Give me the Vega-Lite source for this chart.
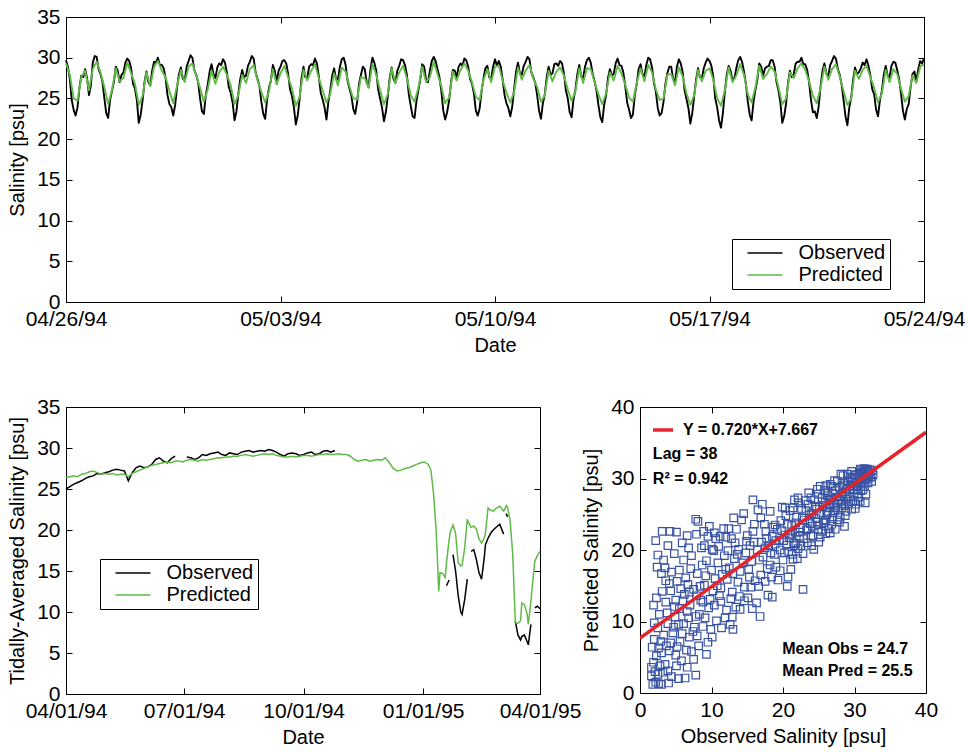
{
"$schema":"https://vega.github.io/schema/vega-lite/v6.json",
"background":"white",
"padding":{"left":7,"top":5,"right":5,"bottom":5},
"config":{
 "view":{"stroke":"black","strokeWidth":1},
 "font":"Liberation Sans",
 "axis":{"grid":false,"domainColor":"black","tickColor":"black","labelColor":"black","titleColor":"black","labelFont":"Liberation Sans","titleFont":"Liberation Sans","labelFontSize":21,"titleFontSize":20,"titleFontWeight":"normal","tickSize":-6,"labelPadding":12,"labelFlush":false,"labelOverlap":false,"labelBound":false},
 "axisY":{"titlePadding":9},
 "axisX":{"titlePadding":6},
 "legend":{"labelFont":"Liberation Sans","labelFontSize":20,"labelColor":"black","strokeColor":"black","fillColor":"white","padding":4,"symbolOffset":19,"symbolType":"M-2.5,0H2.5","symbolSize":196,"symbolStrokeWidth":1.5,"rowPadding":2,"labelOffset":23.5,"title":null,"labelExpr":"datum.label + '\u00a0\u00a0\u00a0\u00a0'"}
},
"datasets":{
"tide":[
{"t":"1994-04-26T00:00","Observed":29.7,"Predicted":29.3},{"t":"1994-04-26T03:00","Observed":27.4,"Predicted":27.9},{"t":"1994-04-26T06:00","Observed":23.6,"Predicted":25.0},{"t":"1994-04-26T09:00","Observed":23.9,"Predicted":24.7},{"t":"1994-04-26T12:00","Observed":27.8,"Predicted":27.6},{"t":"1994-04-26T15:00","Observed":28.6,"Predicted":28.4},{"t":"1994-04-26T18:00","Observed":25.4,"Predicted":26.0},{"t":"1994-04-26T21:00","Observed":29.4,"Predicted":28.6},
{"t":"1994-04-27T00:00","Observed":30.1,"Predicted":29.5},{"t":"1994-04-27T03:00","Observed":28.0,"Predicted":28.2},{"t":"1994-04-27T06:00","Observed":25.1,"Predicted":26.4},{"t":"1994-04-27T09:00","Observed":22.6,"Predicted":24.3},{"t":"1994-04-27T12:00","Observed":25.9,"Predicted":26.0},{"t":"1994-04-27T15:00","Observed":28.9,"Predicted":28.7},{"t":"1994-04-27T18:00","Observed":27.0,"Predicted":27.1},{"t":"1994-04-27T21:00","Observed":28.2,"Predicted":27.5},
{"t":"1994-04-28T00:00","Observed":29.9,"Predicted":29.4},{"t":"1994-04-28T03:00","Observed":28.7,"Predicted":28.1},{"t":"1994-04-28T06:00","Observed":26.2,"Predicted":26.8},{"t":"1994-04-28T09:00","Observed":22.0,"Predicted":24.2},{"t":"1994-04-28T12:00","Observed":24.8,"Predicted":25.3},{"t":"1994-04-28T15:00","Observed":28.3,"Predicted":28.2},{"t":"1994-04-28T18:00","Observed":26.6,"Predicted":26.5},{"t":"1994-04-28T21:00","Observed":29.5,"Predicted":28.9},
{"t":"1994-04-29T00:00","Observed":30.0,"Predicted":29.6},{"t":"1994-04-29T03:00","Observed":29.1,"Predicted":28.4},{"t":"1994-04-29T06:00","Observed":27.5,"Predicted":27.6},{"t":"1994-04-29T09:00","Observed":24.3,"Predicted":25.9},{"t":"1994-04-29T12:00","Observed":22.9,"Predicted":24.4},{"t":"1994-04-29T15:00","Observed":26.4,"Predicted":26.6},{"t":"1994-04-29T18:00","Observed":28.8,"Predicted":28.5},{"t":"1994-04-29T21:00","Observed":27.2,"Predicted":27.0},
{"t":"1994-04-30T00:00","Observed":29.6,"Predicted":28.9},{"t":"1994-04-30T03:00","Observed":30.0,"Predicted":29.3},{"t":"1994-04-30T06:00","Observed":27.9,"Predicted":27.8},{"t":"1994-04-30T09:00","Observed":25.0,"Predicted":26.3},{"t":"1994-04-30T12:00","Observed":23.1,"Predicted":24.6},{"t":"1994-04-30T15:00","Observed":26.7,"Predicted":26.1},{"t":"1994-04-30T18:00","Observed":29.2,"Predicted":28.4},{"t":"1994-04-30T21:00","Observed":27.5,"Predicted":26.8},
{"t":"1994-05-01T00:00","Observed":29.3,"Predicted":28.2},{"t":"1994-05-01T03:00","Observed":29.8,"Predicted":28.9},{"t":"1994-05-01T06:00","Observed":28.2,"Predicted":27.9},{"t":"1994-05-01T09:00","Observed":25.7,"Predicted":26.6},{"t":"1994-05-01T12:00","Observed":22.3,"Predicted":24.3},{"t":"1994-05-01T15:00","Observed":25.6,"Predicted":25.4},{"t":"1994-05-01T18:00","Observed":28.5,"Predicted":27.9},{"t":"1994-05-01T21:00","Observed":27.8,"Predicted":26.9},
{"t":"1994-05-02T00:00","Observed":29.5,"Predicted":28.6},{"t":"1994-05-02T03:00","Observed":29.9,"Predicted":29.1},{"t":"1994-05-02T06:00","Observed":27.4,"Predicted":27.2},{"t":"1994-05-02T09:00","Observed":24.6,"Predicted":25.8},{"t":"1994-05-02T12:00","Observed":22.5,"Predicted":24.5},{"t":"1994-05-02T15:00","Observed":26.3,"Predicted":25.9},{"t":"1994-05-02T18:00","Observed":29.1,"Predicted":28.6},{"t":"1994-05-02T21:00","Observed":26.9,"Predicted":26.7},
{"t":"1994-05-03T00:00","Observed":28.9,"Predicted":28.1},{"t":"1994-05-03T03:00","Observed":29.7,"Predicted":29.0},{"t":"1994-05-03T06:00","Observed":28.0,"Predicted":27.6},{"t":"1994-05-03T09:00","Observed":25.3,"Predicted":26.2},{"t":"1994-05-03T12:00","Observed":21.8,"Predicted":24.1},{"t":"1994-05-03T15:00","Observed":25.0,"Predicted":25.2},{"t":"1994-05-03T18:00","Observed":28.9,"Predicted":28.5},{"t":"1994-05-03T21:00","Observed":27.6,"Predicted":27.2},
{"t":"1994-05-04T00:00","Observed":29.2,"Predicted":28.4},{"t":"1994-05-04T03:00","Observed":29.9,"Predicted":29.2},{"t":"1994-05-04T06:00","Observed":27.7,"Predicted":27.5},{"t":"1994-05-04T09:00","Observed":24.9,"Predicted":26.0},{"t":"1994-05-04T12:00","Observed":22.4,"Predicted":24.5},{"t":"1994-05-04T15:00","Observed":26.0,"Predicted":25.6},{"t":"1994-05-04T18:00","Observed":28.7,"Predicted":28.1},{"t":"1994-05-04T21:00","Observed":27.3,"Predicted":26.6},
{"t":"1994-05-05T00:00","Observed":29.8,"Predicted":28.8},{"t":"1994-05-05T03:00","Observed":29.1,"Predicted":28.3},{"t":"1994-05-05T06:00","Observed":26.2,"Predicted":26.5},{"t":"1994-05-05T09:00","Observed":23.7,"Predicted":25.0},{"t":"1994-05-05T12:00","Observed":24.5,"Predicted":24.9},{"t":"1994-05-05T15:00","Observed":27.9,"Predicted":27.6},{"t":"1994-05-05T18:00","Observed":28.6,"Predicted":27.5},{"t":"1994-05-05T21:00","Observed":26.4,"Predicted":26.3},
{"t":"1994-05-06T00:00","Observed":30.0,"Predicted":29.2},{"t":"1994-05-06T03:00","Observed":28.4,"Predicted":27.9},{"t":"1994-05-06T06:00","Observed":25.0,"Predicted":26.0},{"t":"1994-05-06T09:00","Observed":22.2,"Predicted":24.3},{"t":"1994-05-06T12:00","Observed":25.2,"Predicted":25.5},{"t":"1994-05-06T15:00","Observed":28.8,"Predicted":28.7},{"t":"1994-05-06T18:00","Observed":26.9,"Predicted":26.9},{"t":"1994-05-06T21:00","Observed":29.0,"Predicted":28.2},
{"t":"1994-05-07T00:00","Observed":29.7,"Predicted":29.0},{"t":"1994-05-07T03:00","Observed":27.9,"Predicted":27.5},{"t":"1994-05-07T06:00","Observed":24.1,"Predicted":25.4},{"t":"1994-05-07T09:00","Observed":22.6,"Predicted":24.6},{"t":"1994-05-07T12:00","Observed":26.0,"Predicted":26.3},{"t":"1994-05-07T15:00","Observed":29.2,"Predicted":28.9},{"t":"1994-05-07T18:00","Observed":27.3,"Predicted":27.0},{"t":"1994-05-07T21:00","Observed":28.4,"Predicted":27.6},
{"t":"1994-05-08T00:00","Observed":30.1,"Predicted":29.5},{"t":"1994-05-08T03:00","Observed":28.6,"Predicted":28.0},{"t":"1994-05-08T06:00","Observed":25.9,"Predicted":26.5},{"t":"1994-05-08T09:00","Observed":22.4,"Predicted":24.4},{"t":"1994-05-08T12:00","Observed":24.7,"Predicted":25.1},{"t":"1994-05-08T15:00","Observed":28.5,"Predicted":28.3},{"t":"1994-05-08T18:00","Observed":27.6,"Predicted":27.2},{"t":"1994-05-08T21:00","Observed":29.3,"Predicted":28.5},
{"t":"1994-05-09T00:00","Observed":29.9,"Predicted":29.3},{"t":"1994-05-09T03:00","Observed":28.9,"Predicted":28.4},{"t":"1994-05-09T06:00","Observed":26.8,"Predicted":27.0},{"t":"1994-05-09T09:00","Observed":23.5,"Predicted":25.2},{"t":"1994-05-09T12:00","Observed":23.8,"Predicted":24.8},{"t":"1994-05-09T15:00","Observed":27.5,"Predicted":27.3},{"t":"1994-05-09T18:00","Observed":29.0,"Predicted":28.6},{"t":"1994-05-09T21:00","Observed":27.4,"Predicted":27.0},
{"t":"1994-05-10T00:00","Observed":29.8,"Predicted":28.9},{"t":"1994-05-10T03:00","Observed":29.6,"Predicted":29.0},{"t":"1994-05-10T06:00","Observed":27.3,"Predicted":27.2},{"t":"1994-05-10T09:00","Observed":24.4,"Predicted":25.7},{"t":"1994-05-10T12:00","Observed":22.8,"Predicted":24.5},{"t":"1994-05-10T15:00","Observed":26.2,"Predicted":25.8},{"t":"1994-05-10T18:00","Observed":29.4,"Predicted":28.8},{"t":"1994-05-10T21:00","Observed":27.9,"Predicted":27.3},
{"t":"1994-05-11T00:00","Observed":29.5,"Predicted":28.4},{"t":"1994-05-11T03:00","Observed":29.8,"Predicted":29.1},{"t":"1994-05-11T06:00","Observed":27.6,"Predicted":27.4},{"t":"1994-05-11T09:00","Observed":25.4,"Predicted":26.4},{"t":"1994-05-11T12:00","Observed":22.5,"Predicted":24.6},{"t":"1994-05-11T15:00","Observed":25.5,"Predicted":25.4},{"t":"1994-05-11T18:00","Observed":28.9,"Predicted":28.4},{"t":"1994-05-11T21:00","Observed":28.1,"Predicted":27.1},
{"t":"1994-05-12T00:00","Observed":29.3,"Predicted":28.3},{"t":"1994-05-12T03:00","Observed":29.6,"Predicted":28.8},{"t":"1994-05-12T06:00","Observed":28.1,"Predicted":27.8},{"t":"1994-05-12T09:00","Observed":25.0,"Predicted":26.1},{"t":"1994-05-12T12:00","Observed":22.7,"Predicted":24.7},{"t":"1994-05-12T15:00","Observed":26.1,"Predicted":25.9},{"t":"1994-05-12T18:00","Observed":29.1,"Predicted":28.7},{"t":"1994-05-12T21:00","Observed":27.5,"Predicted":26.9},
{"t":"1994-05-13T00:00","Observed":29.7,"Predicted":28.7},{"t":"1994-05-13T03:00","Observed":29.4,"Predicted":28.6},{"t":"1994-05-13T06:00","Observed":27.1,"Predicted":27.0},{"t":"1994-05-13T09:00","Observed":24.2,"Predicted":25.5},{"t":"1994-05-13T12:00","Observed":22.1,"Predicted":24.3},{"t":"1994-05-13T15:00","Observed":25.4,"Predicted":25.6},{"t":"1994-05-13T18:00","Observed":28.6,"Predicted":28.2},{"t":"1994-05-13T21:00","Observed":28.0,"Predicted":27.2},
{"t":"1994-05-14T00:00","Observed":29.9,"Predicted":29.0},{"t":"1994-05-14T03:00","Observed":29.0,"Predicted":28.1},{"t":"1994-05-14T06:00","Observed":26.5,"Predicted":26.7},{"t":"1994-05-14T09:00","Observed":23.6,"Predicted":25.1},{"t":"1994-05-14T12:00","Observed":23.0,"Predicted":24.6},{"t":"1994-05-14T15:00","Observed":26.8,"Predicted":26.9},{"t":"1994-05-14T18:00","Observed":29.2,"Predicted":28.7},{"t":"1994-05-14T21:00","Observed":27.7,"Predicted":27.1},
{"t":"1994-05-15T00:00","Observed":30.0,"Predicted":29.1},{"t":"1994-05-15T03:00","Observed":28.8,"Predicted":28.2},{"t":"1994-05-15T06:00","Observed":25.8,"Predicted":26.1},{"t":"1994-05-15T09:00","Observed":22.9,"Predicted":24.8},{"t":"1994-05-15T12:00","Observed":24.6,"Predicted":25.0},{"t":"1994-05-15T15:00","Observed":28.1,"Predicted":27.9},{"t":"1994-05-15T18:00","Observed":28.9,"Predicted":28.0},{"t":"1994-05-15T21:00","Observed":27.0,"Predicted":26.6},
{"t":"1994-05-16T00:00","Observed":29.8,"Predicted":28.8},{"t":"1994-05-16T03:00","Observed":28.2,"Predicted":27.7},{"t":"1994-05-16T06:00","Observed":24.9,"Predicted":25.6},{"t":"1994-05-16T09:00","Observed":21.9,"Predicted":24.2},{"t":"1994-05-16T12:00","Observed":25.3,"Predicted":25.4},{"t":"1994-05-16T15:00","Observed":28.7,"Predicted":28.5},{"t":"1994-05-16T18:00","Observed":27.4,"Predicted":27.1},{"t":"1994-05-16T21:00","Observed":29.4,"Predicted":28.4},
{"t":"1994-05-17T00:00","Observed":29.6,"Predicted":28.7},{"t":"1994-05-17T03:00","Observed":27.6,"Predicted":27.3},{"t":"1994-05-17T06:00","Observed":23.9,"Predicted":25.0},{"t":"1994-05-17T09:00","Observed":21.4,"Predicted":24.1},{"t":"1994-05-17T12:00","Observed":25.8,"Predicted":26.0},{"t":"1994-05-17T15:00","Observed":29.0,"Predicted":28.8},{"t":"1994-05-17T18:00","Observed":27.2,"Predicted":27.0},{"t":"1994-05-17T21:00","Observed":28.7,"Predicted":27.8},
{"t":"1994-05-18T00:00","Observed":30.1,"Predicted":29.2},{"t":"1994-05-18T03:00","Observed":28.3,"Predicted":27.9},{"t":"1994-05-18T06:00","Observed":24.6,"Predicted":25.5},{"t":"1994-05-18T09:00","Observed":22.3,"Predicted":24.5},{"t":"1994-05-18T12:00","Observed":26.1,"Predicted":26.4},{"t":"1994-05-18T15:00","Observed":29.3,"Predicted":29.0},{"t":"1994-05-18T18:00","Observed":27.8,"Predicted":27.4},{"t":"1994-05-18T21:00","Observed":28.9,"Predicted":28.0},
{"t":"1994-05-19T00:00","Observed":29.7,"Predicted":28.9},{"t":"1994-05-19T03:00","Observed":28.9,"Predicted":28.3},{"t":"1994-05-19T06:00","Observed":26.0,"Predicted":26.4},{"t":"1994-05-19T09:00","Observed":22.0,"Predicted":24.3},{"t":"1994-05-19T12:00","Observed":24.4,"Predicted":25.0},{"t":"1994-05-19T15:00","Observed":28.4,"Predicted":28.2},{"t":"1994-05-19T18:00","Observed":28.0,"Predicted":27.5},{"t":"1994-05-19T21:00","Observed":29.5,"Predicted":28.7},
{"t":"1994-05-20T00:00","Observed":30.0,"Predicted":29.3},{"t":"1994-05-20T03:00","Observed":29.2,"Predicted":28.5},{"t":"1994-05-20T06:00","Observed":27.0,"Predicted":27.1},{"t":"1994-05-20T09:00","Observed":23.3,"Predicted":25.3},{"t":"1994-05-20T12:00","Observed":22.6,"Predicted":24.4},{"t":"1994-05-20T15:00","Observed":26.5,"Predicted":26.3},{"t":"1994-05-20T18:00","Observed":29.3,"Predicted":28.9},{"t":"1994-05-20T21:00","Observed":27.7,"Predicted":27.3},
{"t":"1994-05-21T00:00","Observed":29.6,"Predicted":28.6},{"t":"1994-05-21T03:00","Observed":29.9,"Predicted":29.2},{"t":"1994-05-21T06:00","Observed":27.9,"Predicted":27.7},{"t":"1994-05-21T09:00","Observed":24.8,"Predicted":25.9},{"t":"1994-05-21T12:00","Observed":21.7,"Predicted":24.2},{"t":"1994-05-21T15:00","Observed":25.1,"Predicted":25.0},{"t":"1994-05-21T18:00","Observed":28.8,"Predicted":28.4},{"t":"1994-05-21T21:00","Observed":28.2,"Predicted":27.4},
{"t":"1994-05-22T00:00","Observed":29.4,"Predicted":28.5},{"t":"1994-05-22T03:00","Observed":29.8,"Predicted":29.0},{"t":"1994-05-22T06:00","Observed":27.8,"Predicted":27.6},{"t":"1994-05-22T09:00","Observed":25.5,"Predicted":26.3},{"t":"1994-05-22T12:00","Observed":22.8,"Predicted":24.5},{"t":"1994-05-22T15:00","Observed":25.9,"Predicted":25.6},{"t":"1994-05-22T18:00","Observed":29.0,"Predicted":28.5},{"t":"1994-05-22T21:00","Observed":27.6,"Predicted":27.0},
{"t":"1994-05-23T00:00","Observed":29.5,"Predicted":28.6},{"t":"1994-05-23T03:00","Observed":28.5,"Predicted":28.0},{"t":"1994-05-23T06:00","Observed":25.6,"Predicted":26.2},{"t":"1994-05-23T09:00","Observed":22.4,"Predicted":24.6},{"t":"1994-05-23T12:00","Observed":24.3,"Predicted":25.3},{"t":"1994-05-23T15:00","Observed":28.0,"Predicted":27.8},{"t":"1994-05-23T18:00","Observed":27.1,"Predicted":26.9},{"t":"1994-05-23T21:00","Observed":29.6,"Predicted":28.9},
{"t":"1994-05-24T00:00","Observed":29.9,"Predicted":29.2},
{"t":"1994-04-26T01:30","Observed":28.9},{"t":"1994-04-26T04:30","Observed":24.8},{"t":"1994-04-26T07:30","Observed":22.9},{"t":"1994-04-26T10:30","Observed":26.3},{"t":"1994-04-26T13:30","Observed":27.6},{"t":"1994-04-26T16:30","Observed":27.5},{"t":"1994-04-26T19:30","Observed":26.6},{"t":"1994-04-26T22:30","Observed":30.2},
{"t":"1994-04-27T01:30","Observed":28.6},{"t":"1994-04-27T04:30","Observed":27.1},{"t":"1994-04-27T07:30","Observed":23.2},{"t":"1994-04-27T10:30","Observed":24.8},{"t":"1994-04-27T13:30","Observed":27.0},{"t":"1994-04-27T16:30","Observed":28.4},{"t":"1994-04-27T19:30","Observed":27.9},{"t":"1994-04-27T22:30","Observed":29.4},
{"t":"1994-04-28T01:30","Observed":29.6},{"t":"1994-04-28T04:30","Observed":26.8},{"t":"1994-04-28T07:30","Observed":24.8},{"t":"1994-04-28T10:30","Observed":23.0},{"t":"1994-04-28T13:30","Observed":27.0},{"t":"1994-04-28T16:30","Observed":27.0},{"t":"1994-04-28T19:30","Observed":28.4},{"t":"1994-04-28T22:30","Observed":29.4},
{"t":"1994-04-29T01:30","Observed":29.1},{"t":"1994-04-29T04:30","Observed":28.7},{"t":"1994-04-29T07:30","Observed":25.4},{"t":"1994-04-29T10:30","Observed":23.9},{"t":"1994-04-29T13:30","Observed":24.2},{"t":"1994-04-29T16:30","Observed":28.0},{"t":"1994-04-29T19:30","Observed":27.4},{"t":"1994-04-29T22:30","Observed":28.9},
{"t":"1994-04-30T01:30","Observed":30.3},{"t":"1994-04-30T04:30","Observed":28.5},{"t":"1994-04-30T07:30","Observed":27.0},{"t":"1994-04-30T10:30","Observed":23.4},{"t":"1994-04-30T13:30","Observed":25.4},{"t":"1994-04-30T16:30","Observed":28.3},{"t":"1994-04-30T19:30","Observed":28.0},{"t":"1994-04-30T22:30","Observed":28.8},
{"t":"1994-05-01T01:30","Observed":29.1},{"t":"1994-05-01T04:30","Observed":29.4},{"t":"1994-05-01T07:30","Observed":26.4},{"t":"1994-05-01T10:30","Observed":24.5},{"t":"1994-05-01T13:30","Observed":23.4},{"t":"1994-05-01T16:30","Observed":27.4},{"t":"1994-05-01T19:30","Observed":27.6},{"t":"1994-05-01T22:30","Observed":29.0},
{"t":"1994-05-02T01:30","Observed":30.2},{"t":"1994-05-02T04:30","Observed":28.2},{"t":"1994-05-02T07:30","Observed":26.5},{"t":"1994-05-02T10:30","Observed":23.1},{"t":"1994-05-02T13:30","Observed":24.9},{"t":"1994-05-02T16:30","Observed":27.2},{"t":"1994-05-02T19:30","Observed":28.4},{"t":"1994-05-02T22:30","Observed":28.4},
{"t":"1994-05-03T01:30","Observed":29.6},{"t":"1994-05-03T04:30","Observed":29.3},{"t":"1994-05-03T07:30","Observed":26.1},{"t":"1994-05-03T10:30","Observed":23.9},{"t":"1994-05-03T13:30","Observed":22.9},{"t":"1994-05-03T16:30","Observed":27.5},{"t":"1994-05-03T19:30","Observed":27.6},{"t":"1994-05-03T22:30","Observed":28.9},
{"t":"1994-05-04T01:30","Observed":29.1},{"t":"1994-05-04T04:30","Observed":29.3},{"t":"1994-05-04T07:30","Observed":25.7},{"t":"1994-05-04T10:30","Observed":23.9},{"t":"1994-05-04T13:30","Observed":24.6},{"t":"1994-05-04T16:30","Observed":27.8},{"t":"1994-05-04T19:30","Observed":27.4},{"t":"1994-05-04T22:30","Observed":28.9},
{"t":"1994-05-05T01:30","Observed":30.0},{"t":"1994-05-05T04:30","Observed":27.2},{"t":"1994-05-05T07:30","Observed":25.4},{"t":"1994-05-05T10:30","Observed":23.1},{"t":"1994-05-05T13:30","Observed":26.8},{"t":"1994-05-05T16:30","Observed":28.9},{"t":"1994-05-05T19:30","Observed":27.0},{"t":"1994-05-05T22:30","Observed":28.6},
{"t":"1994-05-06T01:30","Observed":29.4},{"t":"1994-05-06T04:30","Observed":26.1},{"t":"1994-05-06T07:30","Observed":23.9},{"t":"1994-05-06T10:30","Observed":23.3},{"t":"1994-05-06T13:30","Observed":27.5},{"t":"1994-05-06T16:30","Observed":27.4},{"t":"1994-05-06T19:30","Observed":28.4},{"t":"1994-05-06T22:30","Observed":29.8},
{"t":"1994-05-07T01:30","Observed":29.1},{"t":"1994-05-07T04:30","Observed":25.5},{"t":"1994-05-07T07:30","Observed":22.8},{"t":"1994-05-07T10:30","Observed":24.7},{"t":"1994-05-07T13:30","Observed":27.4},{"t":"1994-05-07T16:30","Observed":28.9},{"t":"1994-05-07T19:30","Observed":27.0},{"t":"1994-05-07T22:30","Observed":29.6},
{"t":"1994-05-08T01:30","Observed":29.6},{"t":"1994-05-08T04:30","Observed":27.6},{"t":"1994-05-08T07:30","Observed":23.5},{"t":"1994-05-08T10:30","Observed":23.3},{"t":"1994-05-08T13:30","Observed":26.9},{"t":"1994-05-08T16:30","Observed":28.4},{"t":"1994-05-08T19:30","Observed":28.9},{"t":"1994-05-08T22:30","Observed":29.0},
{"t":"1994-05-09T01:30","Observed":29.7},{"t":"1994-05-09T04:30","Observed":27.4},{"t":"1994-05-09T07:30","Observed":25.6},{"t":"1994-05-09T10:30","Observed":22.9},{"t":"1994-05-09T13:30","Observed":25.9},{"t":"1994-05-09T16:30","Observed":28.7},{"t":"1994-05-09T19:30","Observed":27.6},{"t":"1994-05-09T22:30","Observed":28.9},
{"t":"1994-05-10T01:30","Observed":29.0},{"t":"1994-05-10T04:30","Observed":28.9},{"t":"1994-05-10T07:30","Observed":25.4},{"t":"1994-05-10T10:30","Observed":23.8},{"t":"1994-05-10T13:30","Observed":24.0},{"t":"1994-05-10T16:30","Observed":28.3},{"t":"1994-05-10T19:30","Observed":28.1},{"t":"1994-05-10T22:30","Observed":29.0},
{"t":"1994-05-11T01:30","Observed":30.1},{"t":"1994-05-11T04:30","Observed":28.2},{"t":"1994-05-11T07:30","Observed":26.9},{"t":"1994-05-11T10:30","Observed":23.5},{"t":"1994-05-11T13:30","Observed":24.4},{"t":"1994-05-11T16:30","Observed":27.6},{"t":"1994-05-11T19:30","Observed":27.9},{"t":"1994-05-11T22:30","Observed":29.2},
{"t":"1994-05-12T01:30","Observed":29.0},{"t":"1994-05-12T04:30","Observed":29.3},{"t":"1994-05-12T07:30","Observed":26.0},{"t":"1994-05-12T10:30","Observed":23.3},{"t":"1994-05-12T13:30","Observed":24.9},{"t":"1994-05-12T16:30","Observed":28.0},{"t":"1994-05-12T19:30","Observed":27.7},{"t":"1994-05-12T22:30","Observed":28.9},
{"t":"1994-05-13T01:30","Observed":30.0},{"t":"1994-05-13T04:30","Observed":28.0},{"t":"1994-05-13T07:30","Observed":26.0},{"t":"1994-05-13T10:30","Observed":22.7},{"t":"1994-05-13T13:30","Observed":24.2},{"t":"1994-05-13T16:30","Observed":27.5},{"t":"1994-05-13T19:30","Observed":27.8},{"t":"1994-05-13T22:30","Observed":29.3},
{"t":"1994-05-14T01:30","Observed":29.1},{"t":"1994-05-14T04:30","Observed":28.2},{"t":"1994-05-14T07:30","Observed":24.5},{"t":"1994-05-14T10:30","Observed":22.6},{"t":"1994-05-14T13:30","Observed":25.4},{"t":"1994-05-14T16:30","Observed":28.6},{"t":"1994-05-14T19:30","Observed":28.0},{"t":"1994-05-14T22:30","Observed":29.1},
{"t":"1994-05-15T01:30","Observed":29.8},{"t":"1994-05-15T04:30","Observed":26.9},{"t":"1994-05-15T07:30","Observed":23.8},{"t":"1994-05-15T10:30","Observed":23.2},{"t":"1994-05-15T13:30","Observed":26.8},{"t":"1994-05-15T16:30","Observed":28.9},{"t":"1994-05-15T19:30","Observed":27.4},{"t":"1994-05-15T22:30","Observed":28.9},
{"t":"1994-05-16T01:30","Observed":29.3},{"t":"1994-05-16T04:30","Observed":26.0},{"t":"1994-05-16T07:30","Observed":23.8},{"t":"1994-05-16T10:30","Observed":23.2},{"t":"1994-05-16T13:30","Observed":27.3},{"t":"1994-05-16T16:30","Observed":27.6},{"t":"1994-05-16T19:30","Observed":28.7},{"t":"1994-05-16T22:30","Observed":29.9},
{"t":"1994-05-17T01:30","Observed":29.0},{"t":"1994-05-17T04:30","Observed":25.0},{"t":"1994-05-17T07:30","Observed":22.3},{"t":"1994-05-17T10:30","Observed":23.2},{"t":"1994-05-17T13:30","Observed":27.9},{"t":"1994-05-17T16:30","Observed":28.4},{"t":"1994-05-17T19:30","Observed":27.5},{"t":"1994-05-17T22:30","Observed":29.7},
{"t":"1994-05-18T01:30","Observed":29.5},{"t":"1994-05-18T04:30","Observed":26.8},{"t":"1994-05-18T07:30","Observed":23.0},{"t":"1994-05-18T10:30","Observed":24.6},{"t":"1994-05-18T13:30","Observed":27.3},{"t":"1994-05-18T16:30","Observed":28.9},{"t":"1994-05-18T19:30","Observed":28.7},{"t":"1994-05-18T22:30","Observed":29.0},
{"t":"1994-05-19T01:30","Observed":29.7},{"t":"1994-05-19T04:30","Observed":27.0},{"t":"1994-05-19T07:30","Observed":24.5},{"t":"1994-05-19T10:30","Observed":22.8},{"t":"1994-05-19T13:30","Observed":26.9},{"t":"1994-05-19T16:30","Observed":27.6},{"t":"1994-05-19T19:30","Observed":29.3},{"t":"1994-05-19T22:30","Observed":29.5},
{"t":"1994-05-20T01:30","Observed":29.2},{"t":"1994-05-20T04:30","Observed":28.5},{"t":"1994-05-20T07:30","Observed":24.8},{"t":"1994-05-20T10:30","Observed":23.4},{"t":"1994-05-20T13:30","Observed":24.0},{"t":"1994-05-20T16:30","Observed":28.4},{"t":"1994-05-20T19:30","Observed":28.1},{"t":"1994-05-20T22:30","Observed":29.1},
{"t":"1994-05-21T01:30","Observed":30.2},{"t":"1994-05-21T04:30","Observed":28.6},{"t":"1994-05-21T07:30","Observed":26.7},{"t":"1994-05-21T10:30","Observed":22.8},{"t":"1994-05-21T13:30","Observed":23.9},{"t":"1994-05-21T16:30","Observed":27.3},{"t":"1994-05-21T19:30","Observed":28.0},{"t":"1994-05-21T22:30","Observed":28.7},
{"t":"1994-05-22T01:30","Observed":29.1},{"t":"1994-05-22T04:30","Observed":29.0},{"t":"1994-05-22T07:30","Observed":26.1},{"t":"1994-05-22T10:30","Observed":23.6},{"t":"1994-05-22T13:30","Observed":24.8},{"t":"1994-05-22T16:30","Observed":27.9},{"t":"1994-05-22T19:30","Observed":27.8},{"t":"1994-05-22T22:30","Observed":29.0},
{"t":"1994-05-23T01:30","Observed":29.4},{"t":"1994-05-23T04:30","Observed":27.4},{"t":"1994-05-23T07:30","Observed":23.5},{"t":"1994-05-23T10:30","Observed":23.7},{"t":"1994-05-23T13:30","Observed":26.4},{"t":"1994-05-23T16:30","Observed":28.3},{"t":"1994-05-23T19:30","Observed":28.6},{"t":"1994-05-23T22:30","Observed":29.3}
],
"avg":[
{"t":"1994-04-01T00:00","Observed":25.0,"Predicted":26.4},{"t":"1994-04-04T00:00","Observed":25.3,"Predicted":26.5},{"t":"1994-04-07T00:00","Observed":25.6,"Predicted":26.6},{"t":"1994-04-10T00:00","Observed":25.8,"Predicted":26.5},{"t":"1994-04-13T00:00","Observed":26.0,"Predicted":26.8},{"t":"1994-04-16T00:00","Observed":26.3,"Predicted":26.9},{"t":"1994-04-19T00:00","Observed":26.5,"Predicted":27.1},{"t":"1994-04-22T00:00","Observed":26.6,"Predicted":27.2},{"t":"1994-04-25T00:00","Observed":26.9,"Predicted":27.0},{"t":"1994-04-28T00:00","Observed":26.8,"Predicted":26.8},
{"t":"1994-05-01T00:00","Observed":27.0,"Predicted":26.9},{"t":"1994-05-04T00:00","Observed":27.1,"Predicted":26.8},{"t":"1994-05-07T00:00","Observed":27.3,"Predicted":26.9},{"t":"1994-05-10T00:00","Observed":27.4,"Predicted":26.7},{"t":"1994-05-13T00:00","Observed":27.3,"Predicted":26.8},{"t":"1994-05-16T00:00","Observed":27.2,"Predicted":26.8},{"t":"1994-05-19T00:00","Observed":26.0,"Predicted":26.5},{"t":"1994-05-22T00:00","Observed":27.0,"Predicted":26.9},{"t":"1994-05-25T00:00","Observed":27.6,"Predicted":27.1},{"t":"1994-05-28T00:00","Observed":27.8,"Predicted":27.3},{"t":"1994-05-31T00:00","Observed":27.6,"Predicted":27.5},
{"t":"1994-06-03T00:00","Observed":27.7,"Predicted":27.7},{"t":"1994-06-06T00:00","Observed":28.0,"Predicted":27.9},{"t":"1994-06-09T00:00","Observed":28.6,"Predicted":28.0},{"t":"1994-06-12T00:00","Observed":28.8,"Predicted":28.1},{"t":"1994-06-15T00:00","Observed":28.4,"Predicted":28.2},{"t":"1994-06-18T00:00","Observed":28.2,"Predicted":28.3},{"t":"1994-06-21T00:00","Observed":28.7,"Predicted":28.2},{"t":"1994-06-24T00:00","Observed":29.0,"Predicted":28.4},{"t":"1994-06-27T00:00","Observed":null,"Predicted":28.4},{"t":"1994-06-30T00:00","Observed":null,"Predicted":28.3},
{"t":"1994-07-03T00:00","Observed":28.9,"Predicted":28.5},{"t":"1994-07-06T00:00","Observed":28.8,"Predicted":28.6},{"t":"1994-07-09T00:00","Observed":28.6,"Predicted":28.5},{"t":"1994-07-12T00:00","Observed":28.8,"Predicted":28.4},{"t":"1994-07-15T00:00","Observed":29.2,"Predicted":28.6},{"t":"1994-07-18T00:00","Observed":29.1,"Predicted":28.5},{"t":"1994-07-21T00:00","Observed":29.3,"Predicted":28.6},{"t":"1994-07-24T00:00","Observed":29.4,"Predicted":28.7},{"t":"1994-07-27T00:00","Observed":29.5,"Predicted":28.8},{"t":"1994-07-30T00:00","Observed":29.2,"Predicted":28.8},
{"t":"1994-08-02T00:00","Observed":29.1,"Predicted":28.9},{"t":"1994-08-05T00:00","Observed":29.4,"Predicted":28.9},{"t":"1994-08-08T00:00","Observed":29.3,"Predicted":29.0},{"t":"1994-08-11T00:00","Observed":29.2,"Predicted":29.0},{"t":"1994-08-14T00:00","Observed":29.5,"Predicted":29.1},{"t":"1994-08-17T00:00","Observed":29.6,"Predicted":29.2},{"t":"1994-08-20T00:00","Observed":29.7,"Predicted":29.1},{"t":"1994-08-23T00:00","Observed":29.5,"Predicted":29.0},{"t":"1994-08-26T00:00","Observed":29.6,"Predicted":29.1},{"t":"1994-08-29T00:00","Observed":29.7,"Predicted":29.2},
{"t":"1994-09-01T00:00","Observed":29.6,"Predicted":29.3},{"t":"1994-09-04T00:00","Observed":29.8,"Predicted":29.2},{"t":"1994-09-07T00:00","Observed":29.7,"Predicted":29.3},{"t":"1994-09-10T00:00","Observed":29.5,"Predicted":29.1},{"t":"1994-09-13T00:00","Observed":29.2,"Predicted":29.0},{"t":"1994-09-16T00:00","Observed":29.0,"Predicted":28.9},{"t":"1994-09-19T00:00","Observed":29.3,"Predicted":28.9},{"t":"1994-09-22T00:00","Observed":29.4,"Predicted":29.0},{"t":"1994-09-25T00:00","Observed":29.3,"Predicted":28.9},{"t":"1994-09-28T00:00","Observed":29.1,"Predicted":29.0},
{"t":"1994-10-01T00:00","Observed":29.2,"Predicted":29.1},{"t":"1994-10-04T00:00","Observed":29.4,"Predicted":29.1},{"t":"1994-10-07T00:00","Observed":29.5,"Predicted":29.0},{"t":"1994-10-10T00:00","Observed":29.2,"Predicted":29.1},{"t":"1994-10-13T00:00","Observed":29.3,"Predicted":29.2},{"t":"1994-10-16T00:00","Observed":29.6,"Predicted":29.2},{"t":"1994-10-19T00:00","Observed":29.7,"Predicted":29.3},{"t":"1994-10-22T00:00","Observed":29.5,"Predicted":29.2},{"t":"1994-10-25T00:00","Observed":29.7,"Predicted":29.2},{"t":"1994-10-28T00:00","Observed":null,"Predicted":29.3},{"t":"1994-10-31T00:00","Observed":null,"Predicted":29.2},
{"t":"1994-11-03T00:00","Observed":null,"Predicted":29.2},{"t":"1994-11-06T00:00","Observed":null,"Predicted":29.0},{"t":"1994-11-09T00:00","Observed":null,"Predicted":28.6},{"t":"1994-11-12T00:00","Observed":null,"Predicted":28.4},{"t":"1994-11-15T00:00","Observed":null,"Predicted":28.5},{"t":"1994-11-18T00:00","Observed":null,"Predicted":28.6},{"t":"1994-11-21T00:00","Observed":null,"Predicted":28.4},{"t":"1994-11-24T00:00","Observed":null,"Predicted":28.5},{"t":"1994-11-27T00:00","Observed":null,"Predicted":28.6},{"t":"1994-11-30T00:00","Observed":null,"Predicted":28.5},
{"t":"1994-12-03T00:00","Observed":null,"Predicted":28.8},{"t":"1994-12-06T00:00","Observed":null,"Predicted":28.2},{"t":"1994-12-09T00:00","Observed":null,"Predicted":27.5},{"t":"1994-12-12T00:00","Observed":null,"Predicted":27.2},{"t":"1994-12-15T00:00","Observed":null,"Predicted":27.3},{"t":"1994-12-18T00:00","Observed":null,"Predicted":27.5},{"t":"1994-12-21T00:00","Observed":null,"Predicted":27.6},{"t":"1994-12-24T00:00","Observed":null,"Predicted":27.8},{"t":"1994-12-27T00:00","Observed":null,"Predicted":28.0},{"t":"1994-12-30T00:00","Observed":null,"Predicted":28.2},
{"t":"1995-01-02T00:00","Observed":null,"Predicted":28.3},{"t":"1995-01-05T00:00","Observed":null,"Predicted":28.0},{"t":"1995-01-07T00:00","Observed":null,"Predicted":27.3},{"t":"1995-01-09T00:00","Observed":null,"Predicted":24.5},{"t":"1995-01-11T00:00","Observed":null,"Predicted":20.0},{"t":"1995-01-12T00:00","Observed":null,"Predicted":16.5},{"t":"1995-01-13T00:00","Observed":null,"Predicted":12.5},{"t":"1995-01-14T00:00","Observed":null,"Predicted":14.8},{"t":"1995-01-16T00:00","Observed":null,"Predicted":14.7},{"t":"1995-01-18T00:00","Observed":null,"Predicted":14.2},{"t":"1995-01-19T00:00","Observed":13.2,"Predicted":16.0},{"t":"1995-01-21T00:00","Observed":13.9,"Predicted":18.8},{"t":"1995-01-22T00:00","Observed":null,"Predicted":19.8},
{"t":"1995-01-24T00:00","Observed":17.0,"Predicted":20.6},{"t":"1995-01-26T00:00","Observed":15.0,"Predicted":19.6},{"t":"1995-01-28T00:00","Observed":12.0,"Predicted":16.0},{"t":"1995-01-30T00:00","Observed":10.0,"Predicted":15.6},{"t":"1995-01-31T00:00","Observed":9.7,"Predicted":15.7},{"t":"1995-02-02T00:00","Observed":11.5,"Predicted":17.8},{"t":"1995-02-04T00:00","Observed":14.0,"Predicted":21.3},{"t":"1995-02-05T00:00","Observed":null,"Predicted":20.9},{"t":"1995-02-07T00:00","Observed":17.4,"Predicted":20.3},{"t":"1995-02-09T00:00","Observed":17.6,"Predicted":20.5},{"t":"1995-02-11T00:00","Observed":16.4,"Predicted":20.1},{"t":"1995-02-13T00:00","Observed":14.8,"Predicted":18.9},{"t":"1995-02-15T00:00","Observed":14.0,"Predicted":18.4},{"t":"1995-02-17T00:00","Observed":16.5,"Predicted":19.0},{"t":"1995-02-18T00:00","Observed":18.2,"Predicted":19.6},{"t":"1995-02-20T00:00","Observed":19.0,"Predicted":22.7},{"t":"1995-02-22T00:00","Observed":19.6,"Predicted":22.4},{"t":"1995-02-24T00:00","Observed":20.0,"Predicted":22.3},{"t":"1995-02-26T00:00","Observed":20.3,"Predicted":22.6},
{"t":"1995-03-01T00:00","Observed":20.7,"Predicted":22.9},{"t":"1995-03-04T00:00","Observed":19.5,"Predicted":22.3},{"t":"1995-03-05T00:00","Observed":null,"Predicted":22.6},{"t":"1995-03-06T00:00","Observed":22.0,"Predicted":23.0},{"t":"1995-03-07T00:00","Observed":21.6,"Predicted":22.8},{"t":"1995-03-08T00:00","Observed":null,"Predicted":22.0},{"t":"1995-03-09T00:00","Observed":null,"Predicted":21.1},{"t":"1995-03-11T00:00","Observed":null,"Predicted":17.0},{"t":"1995-03-13T00:00","Observed":8.9,"Predicted":8.7},{"t":"1995-03-15T00:00","Observed":7.2,"Predicted":8.6},{"t":"1995-03-17T00:00","Observed":6.6,"Predicted":8.9},{"t":"1995-03-18T00:00","Observed":7.0,"Predicted":11.1},{"t":"1995-03-20T00:00","Observed":7.2,"Predicted":10.9},{"t":"1995-03-22T00:00","Observed":6.4,"Predicted":9.8},{"t":"1995-03-23T00:00","Observed":6.0,"Predicted":8.5},{"t":"1995-03-25T00:00","Observed":8.5,"Predicted":11.3},{"t":"1995-03-26T00:00","Observed":null,"Predicted":13.0},{"t":"1995-03-28T00:00","Observed":10.5,"Predicted":16.2},{"t":"1995-03-30T00:00","Observed":10.7,"Predicted":16.9},{"t":"1995-04-01T00:00","Observed":10.4,"Predicted":17.4}
],
"pts":[
{"o":20.3,"p":22.1},{"o":20.8,"p":19.8},{"o":21.2,"p":23.4},{"o":21.5,"p":21.0},{"o":21.9,"p":24.6},{"o":22.1,"p":20.2},{"o":21.7,"p":22.5},{"o":22.4,"p":23.1},{"o":22.6,"p":25.8},{"o":22.9,"p":21.6},{"o":23.0,"p":24.2},{"o":23.3,"p":22.8},{"o":23.5,"p":26.4},{"o":23.8,"p":23.7},{"o":24.0,"p":25.1},{"o":24.2,"p":21.9},{"o":24.4,"p":27.0},{"o":24.6,"p":24.4},{"o":24.9,"p":22.9},{"o":25.1,"p":26.0},{"o":25.3,"p":25.0},{"o":25.5,"p":27.3},{"o":25.7,"p":23.8},{"o":25.9,"p":26.7},{"o":26.1,"p":24.9},{"o":26.3,"p":28.0},{"o":26.5,"p":25.9},{"o":26.7,"p":27.1},{"o":26.9,"p":24.4},{"o":27.1,"p":26.5},{"o":27.3,"p":28.3},{"o":27.5,"p":27.4},{"o":27.7,"p":25.6},{"o":27.9,"p":28.8},{"o":28.1,"p":26.8},{"o":28.3,"p":27.9},{"o":28.5,"p":29.3},{"o":28.7,"p":26.2},{"o":28.9,"p":28.5},{"o":29.1,"p":29.7},{"o":29.3,"p":27.5},{"o":29.5,"p":28.9},{"o":29.7,"p":30.1},{"o":29.9,"p":27.9},{"o":30.1,"p":29.3},{"o":30.3,"p":30.5},{"o":30.5,"p":28.6},{"o":30.7,"p":29.8},{"o":30.9,"p":30.8},{"o":31.1,"p":29.2},{"o":31.3,"p":30.3},{"o":31.5,"p":31.0},{"o":31.7,"p":29.9},{"o":31.9,"p":30.6},{"o":32.1,"p":30.9},{"o":32.3,"p":30.2},{"o":31.2,"p":28.4},{"o":30.0,"p":26.9},{"o":28.8,"p":25.4},{"o":27.6,"p":24.2},{"o":26.4,"p":23.0},{"o":25.2,"p":21.8},{"o":24.0,"p":20.6},{"o":22.8,"p":19.5},{"o":23.6,"p":28.0},{"o":24.8,"p":28.5},{"o":26.0,"p":29.0},{"o":27.2,"p":29.7},{"o":28.4,"p":30.4},{"o":29.6,"p":31.0},{"o":30.8,"p":31.3},{"o":25.0,"p":23.5},{"o":26.2,"p":27.6},{"o":27.8,"p":27.0},{"o":29.0,"p":30.6},{"o":30.4,"p":27.8},{"o":28.0,"p":24.6},{"o":23.2,"p":25.5},{"o":22.2,"p":26.6},{"o":21.0,"p":25.5},{"o":31.8,"p":31.3},{"o":32.5,"p":31.1},{"o":27.0,"p":25.2},{"o":24.5,"p":26.1},{"o":26.8,"p":28.9},{"o":29.8,"p":29.0},{"o":31.0,"p":31.1},{"o":25.6,"p":24.2},{"o":28.6,"p":28.1},{"o":30.6,"p":30.1},{"o":22.0,"p":18.8},{"o":20.5,"p":20.7},{"o":23.9,"p":22.0},{"o":26.6,"p":26.3},{"o":29.4,"p":30.2},
{"o":20.1,"p":21.3},{"o":20.6,"p":23.6},{"o":21.3,"p":19.4},{"o":21.1,"p":22.2},{"o":21.8,"p":23.8},{"o":21.4,"p":25.9},{"o":22.3,"p":21.9},{"o":22.7,"p":24.5},{"o":22.5,"p":20.6},{"o":23.1,"p":26.9},{"o":23.4,"p":21.0},{"o":23.7,"p":24.9},{"o":23.9,"p":27.3},{"o":24.1,"p":23.3},{"o":24.3,"p":20.1},{"o":24.7,"p":25.7},{"o":24.9,"p":27.8},{"o":25.0,"p":21.1},{"o":25.4,"p":22.6},{"o":25.6,"p":26.2},{"o":25.8,"p":28.3},{"o":26.0,"p":22.3},{"o":26.2,"p":25.4},{"o":26.4,"p":27.0},{"o":26.6,"p":29.2},{"o":26.8,"p":23.6},{"o":27.0,"p":27.9},{"o":27.3,"p":22.9},{"o":27.4,"p":25.9},{"o":27.6,"p":29.6},{"o":27.9,"p":23.9},{"o":28.0,"p":27.6},{"o":28.2,"p":25.9},{"o":28.4,"p":29.0},{"o":28.7,"p":24.8},{"o":28.8,"p":27.1},{"o":29.0,"p":29.5},{"o":29.2,"p":26.5},{"o":29.3,"p":28.2},{"o":29.6,"p":25.7},{"o":29.7,"p":29.5},{"o":29.9,"p":28.4},{"o":30.0,"p":30.5},{"o":30.2,"p":26.4},{"o":30.3,"p":29.0},{"o":30.6,"p":27.4},{"o":30.7,"p":30.6},{"o":30.9,"p":28.3},{"o":31.0,"p":29.6},{"o":31.2,"p":30.9},{"o":31.4,"p":28.9},{"o":31.5,"p":29.9},{"o":31.7,"p":31.1},{"o":31.9,"p":29.4},{"o":32.0,"p":30.2},{"o":32.2,"p":31.2},{"o":32.4,"p":29.6},{"o":32.6,"p":30.5},{"o":31.6,"p":27.8},{"o":30.8,"p":26.8},{"o":29.5,"p":26.8},{"o":28.3,"p":26.4},{"o":27.2,"p":25.5},{"o":26.0,"p":24.1},{"o":24.8,"p":23.9},{"o":23.5,"p":23.0},{"o":22.4,"p":22.5},{"o":21.6,"p":20.6},{"o":20.9,"p":21.7},{"o":19.6,"p":20.0},{"o":19.0,"p":21.3},{"o":18.6,"p":23.2},{"o":19.8,"p":22.7},{"o":18.3,"p":19.6},{"o":17.7,"p":21.6},{"o":17.4,"p":23.6},{"o":20.3,"p":25.9},{"o":22.1,"p":27.3},{"o":25.2,"p":28.9},{"o":28.1,"p":30.6},{"o":31.4,"p":31.4},{"o":26.6,"p":22.4},{"o":28.6,"p":23.3},{"o":30.1,"p":25.8},{"o":31.5,"p":26.6},
{"o":1.8,"p":1.2},{"o":2.2,"p":1.5},{"o":2.6,"p":1.3},{"o":3.0,"p":1.2},{"o":1.6,"p":2.4},{"o":2.1,"p":3.0},{"o":2.5,"p":2.6},{"o":3.2,"p":2.9},{"o":2.8,"p":3.8},{"o":1.9,"p":4.3},{"o":3.5,"p":4.0},{"o":2.3,"p":5.2},{"o":3.0,"p":5.6},{"o":4.1,"p":5.9},{"o":2.6,"p":6.3},{"o":1.7,"p":6.4},{"o":3.7,"p":6.6},{"o":4.3,"p":7.0},{"o":2.0,"p":7.5},{"o":3.3,"p":8.1},{"o":4.6,"p":8.4},{"o":2.5,"p":9.1},{"o":3.9,"p":9.7},{"o":1.6,"p":3.6},{"o":4.4,"p":2.3},{"o":4.0,"p":1.4},{"o":5.4,"p":2.0},{"o":6.3,"p":2.1},{"o":7.8,"p":2.5},{"o":9.3,"p":5.4},{"o":7.5,"p":4.7},{"o":5.8,"p":4.5},{"o":5.2,"p":6.5},{"o":6.5,"p":6.0},{"o":7.2,"p":5.8},{"o":3.8,"p":11.2},{"o":4.9,"p":10.6},{"o":5.5,"p":11.8},{"o":6.1,"p":9.7},{"o":6.8,"p":10.5},{"o":7.6,"p":9.2},{"o":8.3,"p":11.0},{"o":5.0,"p":13.0},{"o":6.0,"p":12.9},{"o":7.0,"p":12.3},{"o":7.9,"p":13.6},{"o":4.3,"p":14.3},{"o":3.1,"p":14.2},{"o":5.7,"p":14.6},{"o":6.7,"p":15.2},{"o":8.8,"p":12.7},{"o":9.6,"p":11.9},{"o":10.7,"p":10.1},{"o":11.3,"p":12.8},{"o":12.1,"p":11.6},{"o":13.4,"p":12.0},{"o":12.6,"p":9.6},{"o":14.0,"p":11.7},{"o":15.1,"p":13.3},{"o":16.8,"p":10.7},{"o":10.2,"p":14.3},{"o":9.0,"p":15.1},{"o":8.0,"p":16.7},{"o":7.1,"p":17.4},{"o":6.4,"p":16.1},{"o":5.2,"p":15.6},{"o":4.1,"p":15.3},{"o":3.0,"p":16.7},{"o":2.4,"p":17.6},{"o":3.3,"p":18.6},{"o":2.5,"p":19.3},{"o":2.2,"p":21.3},{"o":3.1,"p":22.6},{"o":4.2,"p":22.6},{"o":5.1,"p":22.5},{"o":4.8,"p":19.5},{"o":6.1,"p":18.6},{"o":7.2,"p":19.2},{"o":7.9,"p":22.2},{"o":8.1,"p":24.0},{"o":7.8,"p":24.3},{"o":8.6,"p":20.3},{"o":9.5,"p":21.9},{"o":10.3,"p":19.9},{"o":11.0,"p":20.5},{"o":12.0,"p":21.8},{"o":12.8,"p":21.6},{"o":13.5,"p":22.9},{"o":14.2,"p":24.2},{"o":15.0,"p":22.0},{"o":15.8,"p":22.6},{"o":16.9,"p":24.5},{"o":17.6,"p":22.6},{"o":18.9,"p":23.5},{"o":19.7,"p":24.1},{"o":20.4,"p":24.8},{"o":16.5,"p":25.6},{"o":14.5,"p":25.1},{"o":10.9,"p":18.2},{"o":11.8,"p":19.2},{"o":12.5,"p":17.5},{"o":13.2,"p":18.8},{"o":14.0,"p":17.0},{"o":14.8,"p":19.6},{"o":15.6,"p":18.4},{"o":16.4,"p":20.0},{"o":17.2,"p":19.0},{"o":18.0,"p":20.6},{"o":18.8,"p":19.4},{"o":19.5,"p":21.4},{"o":20.0,"p":18.6},{"o":19.0,"p":17.6},{"o":17.8,"p":17.4},{"o":16.9,"p":16.5},{"o":16.1,"p":15.7},{"o":15.3,"p":16.2},{"o":14.6,"p":14.8},{"o":13.7,"p":15.5},{"o":12.9,"p":14.1},{"o":12.2,"p":15.9},{"o":11.5,"p":16.6},{"o":10.8,"p":15.0},{"o":10.0,"p":17.2},{"o":9.3,"p":18.5},{"o":8.7,"p":17.9},{"o":8.4,"p":14.9},{"o":9.8,"p":13.1},{"o":11.1,"p":13.6},{"o":12.7,"p":13.2},{"o":13.9,"p":13.5},{"o":15.5,"p":14.8},{"o":16.6,"p":14.9},{"o":17.5,"p":15.6},{"o":18.4,"p":16.2},{"o":19.3,"p":15.8},{"o":21.1,"p":17.3},{"o":20.7,"p":16.2},{"o":22.8,"p":14.5},{"o":20.2,"p":19.6},{"o":21.4,"p":18.7},{"o":18.5,"p":21.9},{"o":17.0,"p":21.1},{"o":15.4,"p":20.6},{"o":13.8,"p":20.1},{"o":12.3,"p":19.9},{"o":10.6,"p":21.6},{"o":9.0,"p":20.6},{"o":11.7,"p":23.0},{"o":13.1,"p":24.5},{"o":10.4,"p":22.4},{"o":6.9,"p":7.8},{"o":7.4,"p":8.6},{"o":5.9,"p":8.3},{"o":4.7,"p":9.2},{"o":8.8,"p":9.3},{"o":9.9,"p":8.9},{"o":11.4,"p":9.1},{"o":12.9,"p":10.6},{"o":10.1,"p":7.8},{"o":3.6,"p":12.7},{"o":2.7,"p":11.0},{"o":2.0,"p":9.8},{"o":5.1,"p":3.8},{"o":8.2,"p":6.6},{"o":6.6,"p":3.6},{"o":1.9,"p":12.3},{"o":3.9,"p":20.6},{"o":5.9,"p":21.0},{"o":6.8,"p":20.3},{"o":19.9,"p":26.0},{"o":21.6,"p":27.0},{"o":18.2,"p":25.4},{"o":17.1,"p":26.4},{"o":15.8,"p":27.0},{"o":20.9,"p":22.2},{"o":19.2,"p":22.9},{"o":21.8,"p":20.9},
{"o":5.6,"p":7.2},{"o":6.2,"p":13.8},{"o":7.5,"p":14.5},{"o":8.5,"p":13.0},{"o":9.2,"p":16.4},{"o":10.5,"p":16.0},{"o":11.3,"p":14.7},{"o":12.0,"p":17.3},{"o":13.0,"p":16.7},{"o":13.6,"p":19.4},{"o":14.4,"p":18.2},{"o":15.2,"p":17.3},{"o":15.9,"p":21.1},{"o":16.7,"p":18.6},{"o":17.5,"p":20.3},{"o":18.2,"p":17.9},{"o":18.9,"p":20.8},{"o":16.0,"p":23.6},{"o":14.9,"p":21.2},{"o":13.3,"p":21.0},{"o":12.4,"p":23.0},{"o":11.2,"p":21.9},{"o":10.1,"p":20.1},{"o":9.7,"p":23.3},{"o":8.9,"p":22.6},{"o":6.6,"p":22.0},{"o":5.5,"p":17.2},{"o":4.4,"p":16.9},{"o":3.5,"p":17.5},{"o":3.6,"p":15.7},{"o":4.8,"p":12.1},{"o":6.6,"p":11.4},{"o":7.8,"p":10.7},{"o":9.1,"p":10.5},{"o":10.4,"p":12.3},{"o":11.9,"p":10.5},{"o":14.6,"p":12.9},{"o":13.0,"p":8.9},{"o":8.0,"p":8.0},{"o":9.5,"p":7.1},{"o":5.0,"p":5.3},{"o":3.9,"p":3.1},{"o":2.9,"p":7.2},{"o":6.9,"p":14.1},{"o":5.4,"p":9.6},{"o":2.3,"p":13.3},{"o":16.3,"p":12.6},{"o":17.9,"p":13.7},{"o":19.6,"p":17.1},{"o":20.6,"p":14.9},{"o":18.5,"p":13.4},{"o":15.7,"p":11.8}
],
"fit":[{"o":0,"p":7.667},{"o":40,"p":36.467}]
},
"vconcat":[
 {
  "width":858,"height":285,
  "data":{"name":"tide"},
  "transform":[{"fold":["Observed","Predicted"],"as":["series","sal"]},{"filter":"isValid(datum.sal)"}],
  "layer":[
   {"mark":{"type":"line","strokeJoin":"round","strokeWidth":1.9},
    "encoding":{
     "x":{"field":"t","type":"temporal","scale":{"domain":[{"year":1994,"month":4,"date":26},{"year":1994,"month":5,"date":24}],"nice":false},
          "axis":{"values":[{"year":1994,"month":4,"date":26},{"year":1994,"month":5,"date":3},{"year":1994,"month":5,"date":10},{"year":1994,"month":5,"date":17},{"year":1994,"month":5,"date":24}],"format":"%m/%d/%y","title":"Date"}},
     "y":{"field":"sal","type":"quantitative","scale":{"domain":[0,35],"nice":false},"axis":{"values":[0,5,10,15,20,25,30,35],"title":"Salinity [psu]"}},
     "color":{"field":"series","type":"nominal","scale":{"domain":["Observed","Predicted"],"range":["black","#5fbb46"]},"legend":{"orient":"none","legendX":666,"legendY":222}}
    }},
   {"mark":{"type":"point","opacity":0},
    "encoding":{
     "x":{"field":"t","type":"temporal","axis":{"orient":"top","labels":false,"title":null,"domain":false,"values":[{"year":1994,"month":4,"date":26},{"year":1994,"month":5,"date":3},{"year":1994,"month":5,"date":10},{"year":1994,"month":5,"date":17},{"year":1994,"month":5,"date":24}]}},
     "y":{"field":"sal","type":"quantitative","axis":{"orient":"right","labels":false,"title":null,"domain":false,"values":[0,5,10,15,20,25,30,35]}}
    }}
  ],
  "resolve":{"axis":{"x":"independent","y":"independent"}}
 },
 {
  "hconcat":[
   {
    "width":474,"height":287,
    "data":{"name":"avg"},
    "transform":[{"fold":["Observed","Predicted"],"as":["series","sal"]}],
    "layer":[
     {"mark":{"type":"line","strokeWidth":1.5,"invalid":"break-paths-show-domains"},
      "encoding":{
       "x":{"field":"t","type":"temporal","scale":{"domain":[{"year":1994,"month":4,"date":1},{"year":1995,"month":4,"date":1}],"nice":false},
            "axis":{"values":[{"year":1994,"month":4,"date":1},{"year":1994,"month":7,"date":1},{"year":1994,"month":10,"date":1},{"year":1995,"month":1,"date":1},{"year":1995,"month":4,"date":1}],"format":"%m/%d/%y","title":"Date"}},
       "y":{"field":"sal","type":"quantitative","scale":{"domain":[0,35],"nice":false},"axis":{"values":[0,5,10,15,20,25,30,35],"title":"Tidally-Averaged Salinity [psu]"}},
       "color":{"field":"series","type":"nominal","scale":{"domain":["Observed","Predicted"],"range":["black","#5fbb46"]},"legend":{"orient":"none","legendX":34,"legendY":152}}
      }},
     {"mark":{"type":"point","opacity":0},
      "encoding":{
       "x":{"field":"t","type":"temporal","axis":{"orient":"top","labels":false,"title":null,"domain":false,"values":[{"year":1994,"month":4,"date":1},{"year":1994,"month":7,"date":1},{"year":1994,"month":10,"date":1},{"year":1995,"month":1,"date":1},{"year":1995,"month":4,"date":1}]}},
       "y":{"field":"sal","type":"quantitative","axis":{"orient":"right","labels":false,"title":null,"domain":false,"values":[0,5,10,15,20,25,30,35]}}
      }}
    ],
    "resolve":{"axis":{"x":"independent","y":"independent"}}
   },
   {
    "width":286,"height":286,
    "layer":[
     {"data":{"name":"pts"},
      "mark":{"type":"point","shape":"square","filled":false,"size":56,"strokeWidth":1.2,"color":"#3853a4","opacity":1},
      "encoding":{
       "x":{"field":"o","type":"quantitative","scale":{"domain":[0,40],"nice":false},"axis":{"values":[0,10,20,30,40],"title":"Observed Salinity [psu]"}},
       "y":{"field":"p","type":"quantitative","scale":{"domain":[0,40],"nice":false},"axis":{"values":[0,10,20,30,40],"title":"Predicted Salinity [psu]"}}
      }},
     {"data":{"name":"fit"},
      "mark":{"type":"line","strokeWidth":3.5,"clip":true},
      "encoding":{
       "x":{"field":"o","type":"quantitative","axis":null},
       "y":{"field":"p","type":"quantitative","axis":null},
       "color":{"datum":"Y = 0.720*X+7.667","type":"nominal","scale":{"range":["#e4232b"]},"legend":{"orient":"top-left","offset":3,"padding":8,"strokeColor":"transparent","fillColor":"transparent","symbolType":"stroke","symbolSize":400,"symbolStrokeWidth":3.5,"symbolOffset":0,"labelFontSize":16,"labelFontWeight":"bold","labelOffset":8,"labelExpr":"datum.label"}}
      }},
     {"data":{"values":[{}]},
      "mark":{"type":"text","align":"left","baseline":"middle","fontSize":16,"fontWeight":"bold","font":"Liberation Sans","color":"black"},
      "encoding":{"x":{"datum":1.8,"type":"quantitative","axis":null},"y":{"datum":33.4,"type":"quantitative","axis":null},"text":{"value":"Lag = 38"}}},
     {"data":{"values":[{}]},
      "mark":{"type":"text","align":"left","baseline":"middle","fontSize":16,"fontWeight":"bold","font":"Liberation Sans","color":"black"},
      "encoding":{"x":{"datum":1.8,"type":"quantitative","axis":null},"y":{"datum":29.9,"type":"quantitative","axis":null},"text":{"value":"R² = 0.942"}}},
     {"data":{"values":[{}]},
      "mark":{"type":"text","align":"left","baseline":"middle","fontSize":16,"fontWeight":"bold","font":"Liberation Sans","color":"black"},
      "encoding":{"x":{"datum":19.9,"type":"quantitative","axis":null},"y":{"datum":6.15,"type":"quantitative","axis":null},"text":{"value":"Mean Obs = 24.7"}}},
     {"data":{"values":[{}]},
      "mark":{"type":"text","align":"left","baseline":"middle","fontSize":16,"fontWeight":"bold","font":"Liberation Sans","color":"black"},
      "encoding":{"x":{"datum":19.9,"type":"quantitative","axis":null},"y":{"datum":3.1,"type":"quantitative","axis":null},"text":{"value":"Mean Pred = 25.5"}}},
     {"data":{"name":"fit"},
      "mark":{"type":"point","opacity":0},
      "encoding":{
       "x":{"field":"o","type":"quantitative","axis":{"orient":"top","labels":false,"title":null,"domain":false,"values":[0,10,20,30,40]}},
       "y":{"field":"p","type":"quantitative","axis":{"orient":"right","labels":false,"title":null,"domain":false,"values":[0,10,20,30,40]}}
      }}
    ],
    "resolve":{"axis":{"x":"independent","y":"independent"}}
   }
  ],
  "spacing":100,"bounds":"flush",
  "resolve":{"scale":{"color":"independent"},"legend":{"color":"independent"}}
 }
],
"spacing":105,"bounds":"flush",
"resolve":{"scale":{"color":"independent"},"legend":{"color":"independent"}}
}
